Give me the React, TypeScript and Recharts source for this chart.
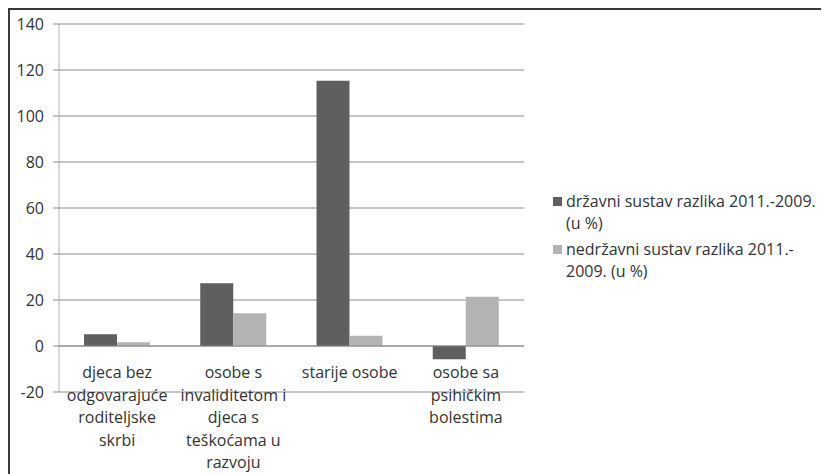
import { BarChart, Bar, XAxis, YAxis, CartesianGrid, ReferenceLine } from 'recharts'

const categories = [
  'djeca bez odgovarajuće roditeljske skrbi',
  'osobe s invaliditetom i djeca s teškoćama u razvoju',
  'starije osobe',
  'osobe sa psihičkim bolestima',
]
const categoryLines = [
  ['djeca bez', 'odgovarajuće', 'roditeljske', 'skrbi'],
  ['osobe s', 'invaliditetom i', 'djeca s', 'teškoćama u', 'razvoju'],
  ['starije osobe'],
  ['osobe sa', 'psihičkim', 'bolestima'],
]
const drzavni = [5.1, 27.3, 115.3, -5.8]
const nedrzavni = [1.6, 14.2, 4.5, 21.4]
const yTicks = [-20, 0, 20, 40, 60, 80, 100, 120, 140]

const seriesNames = ['državni sustav razlika 2011.-2009. (u %)', 'nedržavni sustav razlika 2011.-2009. (u %)']
const legendLines = [
  ['državni sustav razlika 2011.-2009.', '(u %)'],
  ['nedržavni sustav razlika 2011.-', '2009. (u %)'],
]
const colors = ['#5f5f5f', '#b3b3b3']

const data = categories.map((c, i) => ({
  name: c,
  drzavni: drzavni[i],
  nedrzavni: nedrzavni[i],
}))

const font = '"Open Sans", sans-serif'

function CategoryTick(props: any) {
  const { x, y, index } = props
  const lines = categoryLines[index] || []
  return (
    <text x={x} y={y - 16} textAnchor="middle" fontFamily={font} fontSize={16} fill="#333">
      {lines.map((l, i) => (
        <tspan key={i} x={x} dy={i === 0 ? 0 : 22.5}>
          {l}
        </tspan>
      ))}
    </text>
  )
}

function LegendBox() {
  return (
    <div
      style={{
        position: 'absolute',
        left: 543,
        top: 181,
        width: 290,
        fontFamily: font,
        fontSize: 16,
        color: '#333',
        lineHeight: '21.5px',
        whiteSpace: 'nowrap',
      }}
    >
      {legendLines.map((lines, i) => (
        <div key={i} title={seriesNames[i]} style={{ display: 'flex', marginBottom: i === 0 ? 5 : 0 }}>
          <div style={{ width: 9, height: 9, background: colors[i], marginTop: 6, marginRight: 4, flexShrink: 0 }} />
          <div>
            {lines.map((l, j) => (
              <div key={j}>{l}</div>
            ))}
          </div>
        </div>
      ))}
    </div>
  )
}

export default function App() {
  return (
    <div
      style={{
        position: 'relative',
        width: 821,
        height: 466,
        borderLeft: '2px solid #3a3a3a',
        borderTop: '2px solid #3a3a3a',
        boxSizing: 'border-box',
        overflow: 'hidden',
        background: '#fff',
      }}
    >
      <BarChart
        width={819}
        height={470}
        data={data}
        margin={{ top: 14, right: 305, left: 0, bottom: 58 }}
        barGap={0}
        barCategoryGap="21.5%"
      >
        <CartesianGrid vertical={false} stroke="#8c8c8c" strokeWidth={1} />
        <XAxis
          dataKey="name"
          height={30}
          axisLine={false}
          tickLine={false}
          tickSize={0}
          tick={<CategoryTick />}
          interval={0}
        />
        <YAxis
          width={49}
          domain={[-20, 140]}
          ticks={yTicks}
          axisLine={{ stroke: '#b0b0b0' }}
          tickLine={{ stroke: '#8c8c8c' }}
          tickSize={6}
          tickMargin={9}
          tick={{ fontFamily: font, fontSize: 16, fill: '#333' }}
        />
        <ReferenceLine y={0} stroke="#8c8c8c" />
        <Bar dataKey="drzavni" name={seriesNames[0]} fill={colors[0]} isAnimationActive={false} />
        <Bar dataKey="nedrzavni" name={seriesNames[1]} fill={colors[1]} isAnimationActive={false} />
      </BarChart>
      <LegendBox />
    </div>
  )
}
